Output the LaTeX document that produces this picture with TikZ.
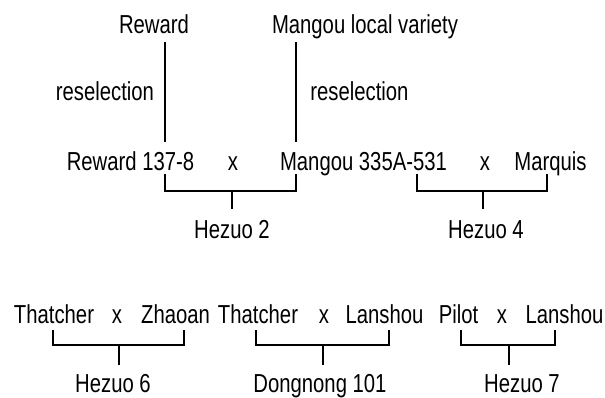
\documentclass[tikz,border=0pt]{standalone}
\usepackage{fontspec}
\setmainfont{Liberation Sans}[FakeStretch=0.78]
\begin{document}
\begin{tikzpicture}[x=1pt,y=1pt,
  lbl/.style={anchor=base,inner sep=0pt,font=\fontsize{26}{30}\selectfont},
  conn/.style={line width=1.6pt,line cap=butt,line join=miter}]
\useasboundingbox (0,0) rectangle (605,-397);
% row 0
\node[lbl] (rew) at (154,-33) {Reward};
\node[lbl] (mlv) at (365,-33) {Mangou local variety};
\node[lbl] (rs1) at (105,-100) {reselection};
\node[lbl] (rs2) at (359.5,-100) {reselection};
% row 1
\node[lbl] (r137) at (130.5,-170) {Reward 137-8};
\node[lbl] (x1) at (233,-170) {x};
\node[lbl] (m335) at (363.5,-170) {Mangou 335A-531};
\node[lbl] (x2) at (485,-170) {x};
\node[lbl] (mq) at (550.5,-170) {Marquis};
\node[lbl] (hz2) at (232,-238) {Hezuo 2};
\node[lbl] (hz4) at (486,-238) {Hezuo 4};
% row 2
\node[lbl] (th1) at (54,-323) {Thatcher};
\node[lbl] (x3) at (117,-323) {x};
\node[lbl] (zh) at (175.5,-323) {Zhaoan};
\node[lbl] (th2) at (258,-323) {Thatcher};
\node[lbl] (x4) at (324,-323) {x};
\node[lbl] (ls1) at (384.5,-323) {Lanshou};
\node[lbl] (pl) at (458.5,-323) {Pilot};
\node[lbl] (x5) at (502,-323) {x};
\node[lbl] (ls2) at (564.5,-323) {Lanshou};
\node[lbl] (hz6) at (113,-392) {Hezuo 6};
\node[lbl] (dn) at (320,-392) {Dongnong 101};
\node[lbl] (hz7) at (522,-392) {Hezuo 7};
% reselection lines
\coordinate (v1t) at (165,-42); \coordinate (v1b) at (165,-142);
\coordinate (v2t) at (296,-42); \coordinate (v2b) at (296,-142);
\draw[conn] (v1t) -- (v1b);
\draw[conn] (v2t) -- (v2b);
% brackets row 1
\coordinate (a1) at (165,-174); \coordinate (a2) at (296,-174); \coordinate (as) at (232,-209);
\coordinate (b1) at (417,-174); \coordinate (b2) at (547,-174); \coordinate (bs) at (483,-209);
\draw[conn] (a1) |- (232,-191) -| (a2);
\draw[conn] (as) -- (as |- 0,-191);
\draw[conn] (b1) |- (483,-191) -| (b2);
\draw[conn] (bs) -- (bs |- 0,-191);
% brackets row 2
\coordinate (c1) at (53,-330); \coordinate (c2) at (184,-330); \coordinate (cs) at (119,-365);
\coordinate (d1) at (256,-330); \coordinate (d2) at (389,-330); \coordinate (ds) at (323,-365);
\coordinate (e1) at (461,-330); \coordinate (e2) at (555,-330); \coordinate (es) at (509,-365);
\draw[conn] (c1) |- (119,-345) -| (c2);
\draw[conn] (cs) -- (cs |- 0,-345);
\draw[conn] (d1) |- (323,-345) -| (d2);
\draw[conn] (ds) -- (ds |- 0,-345);
\draw[conn] (e1) |- (509,-345) -| (e2);
\draw[conn] (es) -- (es |- 0,-345);
\end{tikzpicture}
\end{document}
